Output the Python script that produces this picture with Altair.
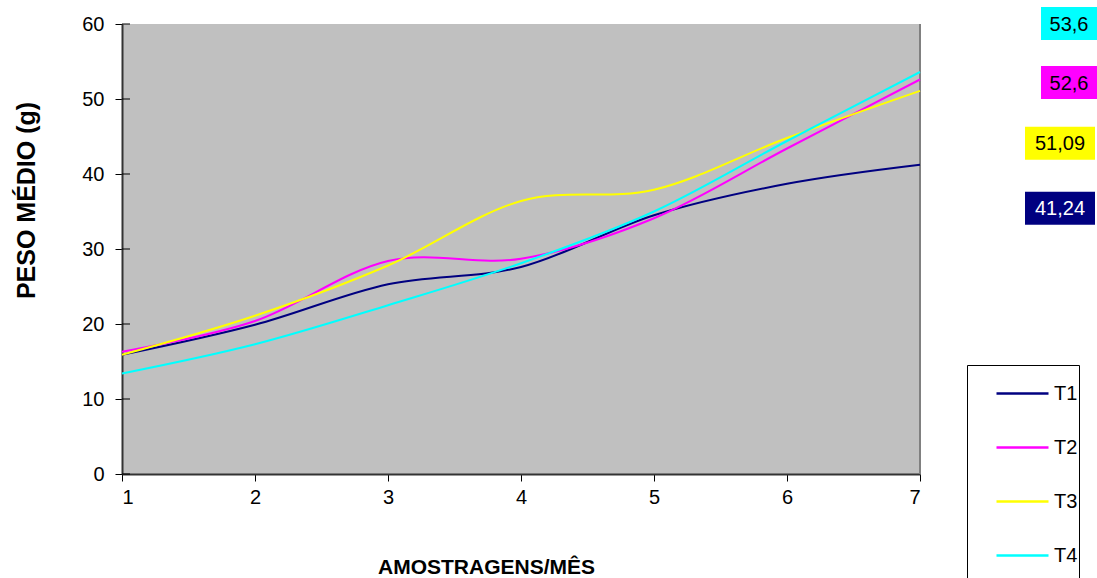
import altair as alt
import pandas as pd

# ---- data ----
months = [1, 2, 3, 4, 5, 6, 7]
series = ["T1", "T2", "T3", "T4"]
t1 = [15.9, 19.9, 25.3, 27.6, 34.5, 38.7, 41.24]
t2 = [16.3, 20.4, 28.4, 28.7, 34.1, 43.4, 52.6]
t3 = [15.9, 21.1, 27.8, 36.4, 37.9, 44.8, 51.09]
t4 = [13.4, 17.3, 22.5, 28.1, 35.0, 44.4, 53.6]
end_labels = ["41,24", "52,6", "51,09", "53,6"]
y_ticks = [0, 10, 20, 30, 40, 50, 60]

# ---- styles ----
colors = ["#000080", "#FF00FF", "#FFFF00", "#00FFFF"]
text_colors = ["white", "black", "black", "black"]
# pixel offsets of the end-label boxes relative to the last point (x0, x1, y0, y1)
box_offsets = [(105, 175, 27, 60), (121, 177, -13.5, 19.5), (105, 175, 36, 69), (121, 177, -65, -32)]
FONT = "Liberation Sans"

rows = []
for name, vals in zip(series, [t1, t2, t3, t4]):
    for m, v in zip(months, vals):
        rows.append({"mes": m, "peso": v, "trat": name})
df = pd.DataFrame(rows)

xscale = alt.Scale(domain=[1, 7], nice=False, zero=False)
yscale = alt.Scale(domain=[0, 60], nice=False)

lines = alt.Chart(df).mark_line(interpolate="cardinal", strokeWidth=2).encode(
    x=alt.X("mes:Q", scale=xscale,
            axis=alt.Axis(values=months, title="AMOSTRAGENS/MÊS", format="d",
                          titleX=364, titleY=93, titleBaseline="middle", titleAlign="center",
                          titleFontSize=21, labelPadding=6)),
    y=alt.Y("peso:Q", scale=yscale,
            axis=alt.Axis(values=y_ticks, title="PESO MÉDIO (g)",
                          titleX=-96, titleY=176, titleAngle=-90, titleBaseline="middle",
                          titleAlign="center", titleFontSize=25, labelPadding=11)),
    color=alt.Color("trat:N", scale=alt.Scale(domain=series, range=colors),
                    legend=alt.Legend(title=" ", titleOrient="bottom", titleFontSize=12,
                                      titlePadding=6,
                                      orient="none", legendX=845, legendY=341,
                                      direction="vertical", symbolType="stroke",
                                      symbolSize=2704, symbolStrokeWidth=2.5, rowPadding=16,
                                      padding=1, symbolOffset=27, labelOffset=4,
                                      labelExpr="datum.label + '          '",
                                      strokeColor="black", fillColor="white",
                                      labelFontSize=20, labelFont=FONT, labelColor="black")),
)

# inward half of the crossing y-axis ticks
inner_ticks = alt.Chart(pd.DataFrame({"t": y_ticks})).mark_rule(
    color="black", strokeWidth=1, x2Offset=8).encode(
    x=alt.datum(months[0], scale=xscale), x2=alt.datum(months[0]),
    y=alt.Y("t:Q", scale=yscale))

# grey right border of the plot area
right_border = alt.Chart(pd.DataFrame({"m": [months[-1]]})).mark_rule(
    color="#808080", strokeWidth=2).encode(
    x=alt.X("m:Q", scale=xscale), y=alt.datum(y_ticks[0]), y2=alt.datum(y_ticks[-1]))

layers = [right_border, lines, inner_ticks]
for name, vals, lab, col, tcol, (x0, x1, y0, y1) in zip(series, [t1, t2, t3, t4], end_labels,
                                                       colors, text_colors, box_offsets):
    d = pd.DataFrame({"mes": [months[-1]], "peso": [vals[-1]], "lab": [lab]})
    box = alt.Chart(d).mark_rect(color=col, xOffset=x0, x2Offset=x1, yOffset=y0, y2Offset=y1).encode(
        x=alt.X("mes:Q", scale=xscale), x2="mes:Q",
        y=alt.Y("peso:Q", scale=yscale), y2="peso:Q")
    txt = alt.Chart(d).mark_text(font=FONT, fontSize=20, color=tcol, align="center", baseline="middle",
                                 dx=(x0 + x1) / 2, dy=(y0 + y1) / 2 + 1).encode(
        x=alt.X("mes:Q", scale=xscale), y=alt.Y("peso:Q", scale=yscale), text="lab:N")
    layers += [box, txt]

chart = alt.layer(*layers).properties(
    width=798, height=450,
    autosize=alt.AutoSizeParams(type="none"),
    padding={"left": 122, "top": 24, "right": 177, "bottom": 104},
    background="white",
).configure_view(fill="#C0C0C0", stroke=None).configure_axis(
    labelFont=FONT, labelFontSize=20, labelColor="black", grid=False,
    domainColor="#333333", domainWidth=2, tickColor="black", tickSize=7, tickWidth=1,
    titleFont=FONT, titleFontWeight="bold", titleColor="black",
)

chart.save("out.html", embed_options={"renderer": "svg", "actions": False})
